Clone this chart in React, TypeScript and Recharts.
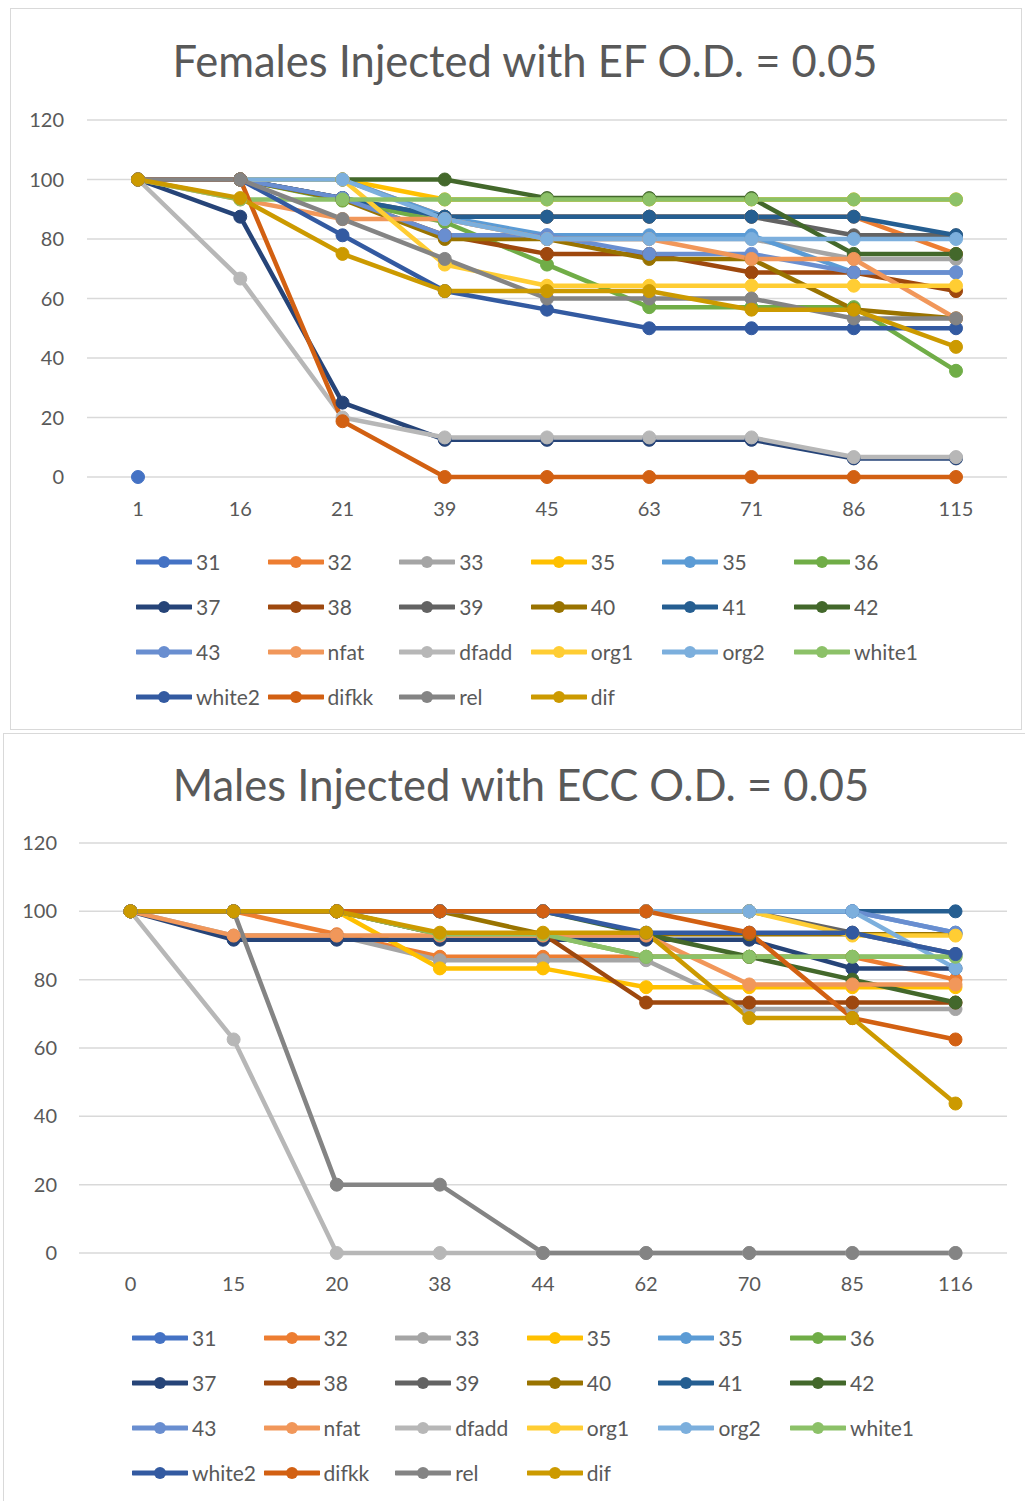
import React from 'react';
import { LineChart, Line, XAxis, YAxis, CartesianGrid } from 'recharts';

const FONT = "Lato, 'Open Sans', sans-serif";
const TEXT = '#595959';
const GRID = '#d9d9d9';

const SERIES_NAMES = ['31', '32', '33', '35', '35', '36', '37', '38', '39', '40', '41', '42', '43', 'nfat', 'dfadd', 'org1', 'org2', 'white1', 'white2', 'difkk', 'rel', 'dif'];

const SERIES_COLORS = [
  '#4472C4', '#ED7D31', '#A5A5A5', '#FFC000', '#5B9BD5', '#70AD47',
  '#264478', '#9E480E', '#636363', '#997300', '#255E91', '#43682B',
  '#698ED0', '#F1975A', '#B7B7B7', '#FFCD33', '#7CAFDD', '#8CC168',
  '#335AA1', '#D26012', '#848484', '#CC9A00',
];

const Y_TICKS = [0, 20, 40, 60, 80, 100, 120];

// females, days post injection
const femaleDays = ['1', '16', '21', '39', '45', '63', '71', '86', '115'];
const f31 = [0, null, null, null, null, null, null, null, null];
const f32 = [100, 100, 100, 87.5, 87.5, 87.5, 87.5, 87.5, 75];
const f33 = [100, 100, 93.3, 86.7, 80, 80, 80, 73.3, 73.3];
const f35 = [100, 100, 100, 93.3, 93.3, 93.3, 93.3, 93.3, 93.3];
const f35b = [100, 100, 100, 87.5, 81.25, 81.25, 81.25, 68.75, 68.75];
const f36 = [100, 100, 92.9, 85.7, 71.4, 57.1, 57.1, 57.1, 35.7];
const f37 = [100, 87.5, 25, 12.5, 12.5, 12.5, 12.5, 6.25, 6.25];
const f38 = [100, 100, 93.75, 81.25, 75, 75, 68.75, 68.75, 62.5];
const f39 = [100, 100, 93.75, 87.5, 87.5, 87.5, 87.5, 81.25, 81.25];
const f40 = [100, 100, 93.3, 80, 80, 73.3, 73.3, 56.3, 53.3];
const f41 = [100, 100, 93.75, 87.5, 87.5, 87.5, 87.5, 87.5, 81.25];
const f42 = [100, 100, 100, 100, 93.75, 93.75, 93.75, 75, 75];
const f43 = [100, 100, 93.75, 81.25, 81.25, 75, 75, 68.75, 68.75];
const fNfat = [100, 93.3, 86.7, 86.7, 80, 80, 73.3, 73.3, 53.3];
const fDfadd = [100, 66.7, 20, 13.3, 13.3, 13.3, 13.3, 6.7, 6.7];
const fOrg1 = [100, 100, 100, 71.4, 64.3, 64.3, 64.3, 64.3, 64.3];
const fOrg2 = [100, 100, 100, 86.7, 80, 80, 80, 80, 80];
const fWhite1 = [100, 93.3, 93.3, 93.3, 93.3, 93.3, 93.3, 93.3, 93.3];
const fWhite2 = [100, 100, 81.25, 62.5, 56.25, 50, 50, 50, 50];
const fDifkk = [100, 100, 18.75, 0, 0, 0, 0, 0, 0];
const fRel = [100, 100, 86.7, 73.3, 60, 60, 60, 53.3, 53.3];
const fDif = [100, 93.75, 75, 62.5, 62.5, 62.5, 56.25, 56.25, 43.75];

// males
const maleDays = ['0', '15', '20', '38', '44', '62', '70', '85', '116'];
const m31 = [null, null, null, null, null, null, null, null, null];
const m32 = [100, 100, 93.3, 86.7, 86.7, 86.7, 86.7, 86.7, 80];
const m33 = [100, 92.9, 92.9, 85.7, 85.7, 85.7, 71.4, 71.4, 71.4];
const m35 = [100, 100, 100, 83.3, 83.3, 77.8, 77.8, 77.8, 77.8];
const m35b = [100, 100, 100, 100, 100, 100, 100, 100, 93.75];
const m36 = [100, 100, 100, 93.3, 93.3, 86.7, 86.7, 86.7, 86.7];
const m37 = [100, 91.7, 91.7, 91.7, 91.7, 91.7, 91.7, 83.3, 83.3];
const m38 = [100, 100, 100, 93.3, 93.3, 73.3, 73.3, 73.3, 73.3];
const m39 = [100, 100, 100, 100, 100, 100, 100, 93.75, 87.5];
const m40 = [100, 100, 100, 100, 93.3, 93.3, 93.3, 93.3, 93.3];
const m41 = [100, 100, 100, 100, 100, 100, 100, 100, 100];
const m42 = [100, 100, 100, 100, 100, 93.3, 86.7, 80, 73.3];
const m43 = [100, 100, 100, 100, 100, 100, 100, 100, 93.75];
const mNfat = [100, 92.9, 92.9, 92.9, 92.9, 92.9, 78.6, 78.6, 78.6];
const mDfadd = [100, 62.5, 0, 0, 0, 0, 0, 0, 0];
const mOrg1 = [100, 100, 100, 100, 100, 100, 100, 92.9, 92.9];
const mOrg2 = [100, 100, 100, 100, 100, 100, 100, 100, 83.3];
const mWhite1 = [100, 100, 100, 93.3, 93.3, 86.7, 86.7, 86.7, 86.7];
const mWhite2 = [100, 100, 100, 100, 100, 93.75, 93.75, 93.75, 87.5];
const mDifkk = [100, 100, 100, 100, 100, 100, 93.75, 68.75, 62.5];
const mRel = [100, 100, 20, 20, 0, 0, 0, 0, 0];
const mDif = [100, 100, 100, 93.75, 93.75, 93.75, 68.75, 68.75, 43.75];

const femaleSeries = [f31, f32, f33, f35, f35b, f36, f37, f38, f39, f40, f41, f42, f43, fNfat, fDfadd, fOrg1, fOrg2, fWhite1, fWhite2, fDifkk, fRel, fDif];
const maleSeries = [m31, m32, m33, m35, m35b, m36, m37, m38, m39, m40, m41, m42, m43, mNfat, mDfadd, mOrg1, mOrg2, mWhite1, mWhite2, mDifkk, mRel, mDif];

function buildRows(days: string[], series: (number | null)[][]) {
  return days.map((day, i) => {
    const row: Record<string, string | number | null> = { day };
    series.forEach((vals, s) => {
      row[`s${s}`] = vals[i];
    });
    return row;
  });
}

function LegendGrid({ left, top }: { left: number; top: number }) {
  return (
    <div
      style={{
        position: 'absolute',
        left,
        top,
        display: 'grid',
        gridTemplateColumns: 'repeat(6, 131.6px)',
        gridAutoRows: '45px',
        fontFamily: FONT,
        fontSize: 21,
        color: TEXT,
      }}
    >
      {SERIES_NAMES.map((name, i) => (
        <div key={i} style={{ display: 'flex', alignItems: 'center' }}>
          <svg width={56} height={14} style={{ flex: 'none' }}>
            <line x1={1} y1={7} x2={55} y2={7} stroke={SERIES_COLORS[i]} strokeWidth={5} strokeLinecap="round" />
            <circle cx={28} cy={7} r={6} fill={SERIES_COLORS[i]} />
          </svg>
          <span style={{ marginLeft: 4, whiteSpace: 'nowrap' }}>{name}</span>
        </div>
      ))}
    </div>
  );
}

type PanelProps = {
  title: string;
  days: string[];
  series: (number | null)[][];
  box: { left: number; top: number; width: number; height: number };
  titleY: number;
  titleShift: number;
  plotTop: number;
  plotBottom: number;
  yAxisWidth: number;
  rightMargin: number;
  bandPad: number;
  xTickMargin: number;
  yTickMargin: number;
  legendLeft: number;
  legendTop: number;
};

function Panel(p: PanelProps) {
  const rows = buildRows(p.days, p.series);
  const chartHeight = p.plotBottom + 45;
  return (
    <div
      style={{
        position: 'absolute',
        left: p.box.left,
        top: p.box.top,
        width: p.box.width,
        height: p.box.height,
        border: `1px solid ${GRID}`,
        boxSizing: 'border-box',
        background: '#fff',
      }}
    >
      <div
        style={{
          position: 'absolute',
          left: p.titleShift,
          width: p.box.width,
          top: p.titleY - 25,
          height: 50,
          lineHeight: '50px',
          textAlign: 'center',
          fontFamily: FONT,
          fontSize: 43.5,
          color: TEXT,
          whiteSpace: 'nowrap',
        }}
      >
        {p.title}
      </div>
      <div style={{ position: 'absolute', left: -1, top: -1 }}>
        <LineChart
          width={p.box.width}
          height={chartHeight}
          data={rows}
          margin={{ top: p.plotTop, right: p.rightMargin, bottom: 5, left: 0 }}
        >
          <CartesianGrid vertical={false} stroke={GRID} strokeWidth={1.5} />
          <XAxis
            dataKey="day"
            height={40}
            axisLine={false}
            tickLine={false}
            tickSize={0}
            tickMargin={p.xTickMargin}
            padding={{ left: p.bandPad, right: p.bandPad }}
            tick={{ fill: TEXT, fontSize: 20, fontFamily: FONT }}
            interval={0}
          />
          <YAxis
            width={p.yAxisWidth}
            domain={[0, 120]}
            ticks={Y_TICKS}
            axisLine={false}
            tickLine={false}
            tickSize={0}
            tickMargin={p.yTickMargin}
            tick={{ fill: TEXT, fontSize: 20, fontFamily: FONT }}
          />
          {SERIES_NAMES.map((name, i) => (
            <Line
              key={i}
              type="linear"
              dataKey={`s${i}`}
              name={name}
              stroke={SERIES_COLORS[i]}
              strokeWidth={4.5}
              dot={{ r: 6.5, fill: SERIES_COLORS[i], stroke: SERIES_COLORS[i], strokeWidth: 1 }}
              activeDot={false}
              isAnimationActive={false}
              connectNulls={false}
            />
          ))}
        </LineChart>
      </div>
      <LegendGrid left={p.legendLeft} top={p.legendTop} />
    </div>
  );
}

export default function App() {
  return (
    <div style={{ position: 'absolute', left: 0, top: 0, width: 1025, height: 1501, background: '#fff', overflow: 'hidden' }}>
      <Panel
        title="Females Injected with EF O.D. = 0.05"
        days={femaleDays}
        series={femaleSeries}
        box={{ left: 10, top: 8, width: 1012, height: 722 }}
        titleY={51}
        titleShift={8}
        plotTop={112}
        plotBottom={469}
        yAxisWidth={77}
        rightMargin={15}
        bandPad={51}
        xTickMargin={25}
        yTickMargin={23}
        legendLeft={125}
        legendTop={530}
      />
      <Panel
        title="Males Injected with ECC O.D. = 0.05"
        days={maleDays}
        series={maleSeries}
        box={{ left: 3, top: 733, width: 1024, height: 770 }}
        titleY={50}
        titleShift={5}
        plotTop={110}
        plotBottom={520}
        yAxisWidth={76}
        rightMargin={20}
        bandPad={51.5}
        xTickMargin={24}
        yTickMargin={22}
        legendLeft={128}
        legendTop={581}
      />
    </div>
  );
}
